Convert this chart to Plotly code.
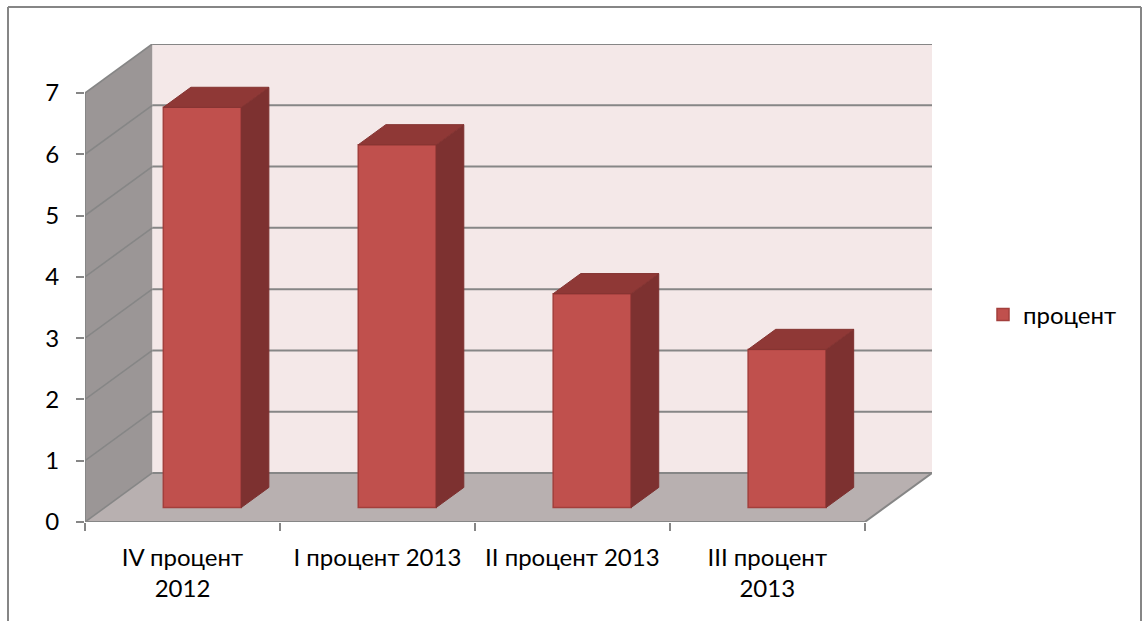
import plotly.graph_objects as go

categories = ["IV процент<br>2012", "I процент 2013", "II процент 2013", "III процент<br>2013"]
series_name = "процент"
values = [6.53, 5.92, 3.49, 2.58]
y_ticks = [0, 1, 2, 3, 4, 5, 6, 7]

# Oblique projection: one unit of depth shifts this far along each axis
DX, DY = 0.345, 0.80
BAR_W = 0.40
BAR_NEAR, BAR_FAR = 0.295, 0.705   # depth span of the bars
N = len(categories)
YMAX = y_ticks[-1]

GRID = "#868686"
FONT = "Lato"
L, R, T, B = 85, 211, 44, 99
W, H = 1143, 621


def px(v):
    return (v - L) / (W - L - R)


def py(v):
    return (H - B - v) / (H - T - B)


def poly(pts):
    return "M" + " L".join(f"{x} {y}" for x, y in pts) + " Z"


shapes = [
    # back wall, side wall, floor
    dict(type="path", path=poly([(DX, DY), (N + DX, DY), (N + DX, YMAX + DY), (DX, YMAX + DY)]),
         fillcolor="#F4E8E8", line_width=0, layer="below"),
    dict(type="path", path=poly([(0, 0), (DX, DY), (DX, YMAX + DY), (0, YMAX)]),
         fillcolor="#9B9696", line_width=0, layer="below"),
    dict(type="path", path=poly([(0, 0), (N, 0), (N + DX, DY), (DX, DY)]),
         fillcolor="#B8B0B0", line_width=0, layer="below"),
]
for t in y_ticks:
    shapes.append(dict(type="line", x0=0, y0=t, x1=DX, y1=t + DY,
                       line=dict(color=GRID, width=1.6), layer="below"))
    shapes.append(dict(type="line", x0=DX, y0=t + DY, x1=N + DX, y1=t + DY,
                       line=dict(color=GRID, width=2), layer="below"))
shapes += [
    dict(type="line", x0=0, y0=0, x1=0, y1=YMAX, line=dict(color=GRID, width=2), layer="below"),
    dict(type="line", x0=0, y0=0, x1=N, y1=0, line=dict(color=GRID, width=2), layer="below"),
    dict(type="line", x0=N, y0=0, x1=N + DX, y1=DY, line=dict(color=GRID, width=2), layer="below"),
]
# chart frame: open at the bottom, where the picture is cut off
for x0, y0, x1, y1 in [(8, 7, 1141, 7), (8, 7, 8, 621), (1141, 7, 1141, 621)]:
    shapes.append(dict(type="line", xref="paper", yref="paper",
                       x0=px(x0), y0=py(y0), x1=px(x1), y1=py(y1),
                       line=dict(color=GRID, width=2), layer="below"))

centers = [i + 0.5 for i in range(N)]

top_x, top_y, side_x, side_y = [], [], [], []
for c, v in zip(centers, values):
    xl = c + BAR_NEAR * DX - BAR_W / 2
    xr = xl + BAR_W
    yb = BAR_NEAR * DY
    yt = yb + v
    dx = (BAR_FAR - BAR_NEAR) * DX
    dy = (BAR_FAR - BAR_NEAR) * DY
    top_x += [xl, xr, xr + dx, xl + dx, xl, None]
    top_y += [yt, yt, yt + dy, yt + dy, yt, None]
    side_x += [xr, xr + dx, xr + dx, xr, xr, None]
    side_y += [yb, yb + dy, yt + dy, yt, yb, None]

fig = go.Figure()
fig.add_trace(go.Bar(
    x=[c + BAR_NEAR * DX for c in centers], y=values, base=[BAR_NEAR * DY] * N,
    width=BAR_W, name=series_name,
    marker=dict(color="#C0504D", line=dict(color="#A33F3C", width=1.5)),
))
fig.add_trace(go.Scatter(x=side_x, y=side_y, mode="lines", fill="toself", fillcolor="#7D3130",
                         line=dict(color="#7D3130", width=1), showlegend=False, hoverinfo="skip"))
fig.add_trace(go.Scatter(x=top_x, y=top_y, mode="lines", fill="toself", fillcolor="#8F3836",
                         line=dict(color="#853432", width=1), showlegend=False, hoverinfo="skip"))

fig.update_layout(
    width=W, height=H,
    margin=dict(l=L, r=R, t=T, b=B, pad=0),
    paper_bgcolor="white", plot_bgcolor="rgba(0,0,0,0)",
    font=dict(family=FONT, size=24, color="black"),
    shapes=shapes,
    showlegend=True,
    legend=dict(x=px(983), y=py(315), xanchor="left", yanchor="middle",
                bgcolor="rgba(0,0,0,0)", font=dict(family=FONT, size=24)),
    xaxis=dict(range=[0, N + DX], showgrid=False, zeroline=False, showline=False,
               tickmode="array", tickvals=centers, ticktext=categories, ticks="",
               ticklabelstandoff=19,
               minor=dict(tickmode="array", tickvals=list(range(N + 1)), ticks="outside",
                          ticklen=8, tickwidth=2, tickcolor=GRID)),
    yaxis=dict(range=[0, YMAX + DY], showgrid=False, zeroline=False, showline=False,
               tickmode="array", tickvals=y_ticks, ticks="outside", ticklen=8, tickwidth=2,
               tickcolor=GRID, ticklabelstandoff=12),
)
fig.write_html("out.html", config={"displayModeBar": False},
               post_script="document.body.style.margin='0';")
